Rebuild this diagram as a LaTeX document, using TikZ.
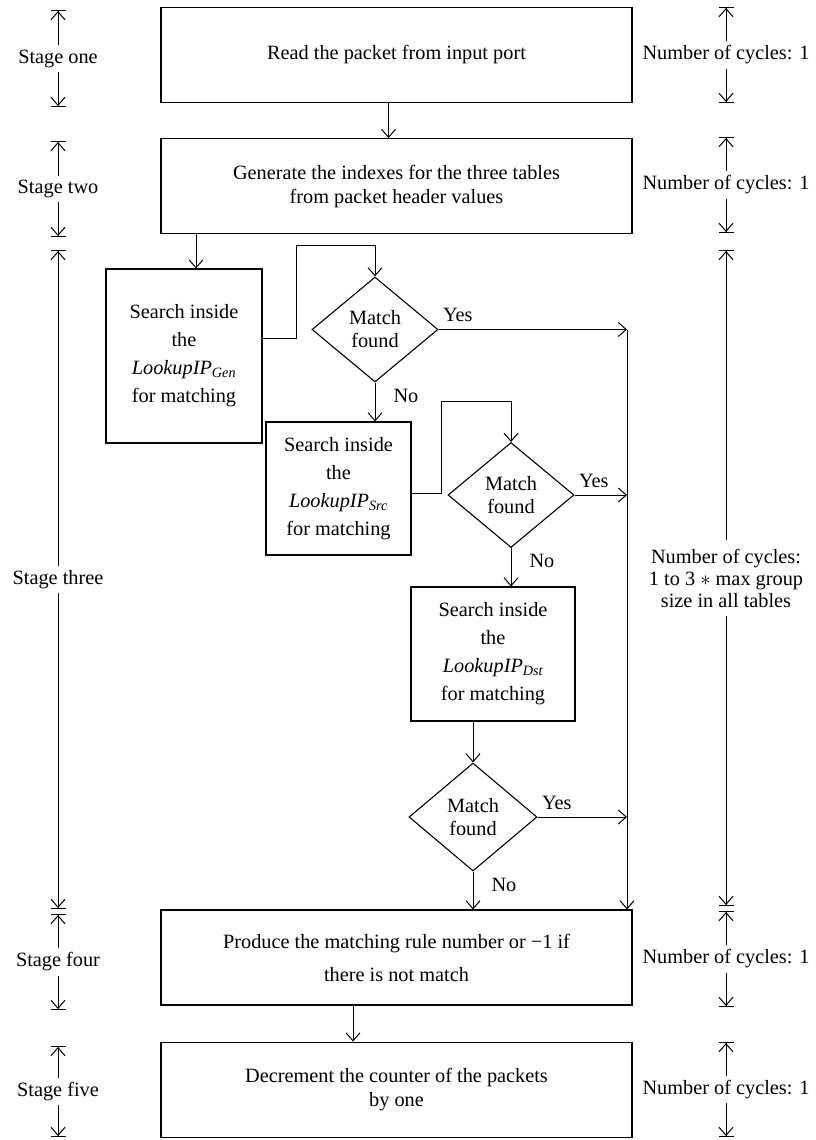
\documentclass[tikz,border=0pt]{standalone}
\usepackage{fontspec}
\setmainfont{Liberation Serif}
\usetikzlibrary{arrows.meta,positioning,shapes.geometric}

\begin{document}
\begin{tikzpicture}[
  x=1pt, y=-1pt,
  font=\fontsize{20.3}{24}\selectfont,
  box/.style={draw,line width=1.1pt,minimum width=471pt,minimum height=95pt,align=center,inner sep=0pt},
  search/.style={draw,line width=1.1pt,align=center,inner sep=0pt,font=\fontsize{20.3}{28}\selectfont},
  test/.style={draw,diamond,aspect=1.2,line width=1.1pt,minimum width=126pt,minimum height=105pt,inner sep=0pt,align=center,font=\fontsize{20.3}{23}\selectfont},
  yes/.style={inner sep=4pt,anchor=south west,yshift=3pt},
  no/.style={inner sep=4pt,anchor=north west,xshift=14pt,yshift=-2pt},
  stage/.style={inner sep=4pt,align=center,font=\fontsize{20.3}{22}\selectfont},
  arrow/.style={-{Straight Barb[length=8pt,width=14pt]},line width=1pt},
  spanline/.style={-{Straight Barb[length=8pt,width=14pt]Bar[width=15pt]},line width=1pt}
]
\useasboundingbox (0,0) rectangle (816,1140);

% flow
\node[box] (read) at (396.5,55) {Read the packet from input port};
\node[box,below=35pt of read] (idx) {Generate the indexes for the three tables\\from packet header values};
\node[search,minimum width=156pt,minimum height=174pt] (gen) at (184,356) {Search inside\\the\\\textit{LookupIP\textsubscript{Gen}}\\for matching};
\node[test] (d1) at (375,329.5) {Match\\found};
\node[search,minimum width=145pt,minimum height=133pt] (src) at (338.5,488.5) {Search inside\\the\\\textit{LookupIP\textsubscript{Src}}\\for matching};
\node[test] (d2) at (511,495) {Match\\found};
\node[search,minimum width=164pt,minimum height=134pt] (dst) at (493,654) {Search inside\\the\\\textit{LookupIP\textsubscript{Dst}}\\for matching};
\node[test,minimum width=128pt,minimum height=108pt] (d3) at (473,817) {Match\\found};
\node[box] (fin) at (396.5,957.5) {Produce the matching rule number or −1 if\\[9pt]there is not match};
\node[box,below=36pt of fin] (dec) {Decrement the counter of the packets\\by one};
\coordinate (bus) at (627,329.5);

\draw[arrow] ([xshift=-8pt]read.south) -- ([xshift=-8pt]idx.north);
\draw[arrow] ([xshift=12pt]gen.north |- idx.south) -- ([xshift=12pt]gen.north);
\draw[arrow] ([yshift=18pt]gen.east) -- ++(34,0) |- ([yshift=31pt]d1.north) -- (d1.north);
\draw[arrow] (d1.east) node[yes] {Yes} -- (bus);
\draw[arrow] (bus) -- (bus |- fin.north);
\draw[arrow] (d1.south) node[no] {No} -- (d1.south |- src.north);
\draw[arrow] ([yshift=-4.5pt]src.east) -- ++(30,0) |- ([yshift=40pt]d2.north) -- (d2.north);
\draw[arrow] (d2.east) node[yes] {Yes} -- (d2.east -| bus);
\draw[arrow] (d2.south) node[no] {No} -- (d2.south |- dst.north);
\draw[arrow] (d3.north |- dst.south) -- (d3.north);
\draw[arrow] (d3.east) node[yes] {Yes} -- (d3.east -| bus);
\draw[arrow] (d3.south) node[no] {No} -- (d3.south |- fin.north);
\draw[arrow] ([xshift=-43.5pt]fin.south) -- ([xshift=-43.5pt]dec.north);

% stages, left
\node[stage] (s1) at (58,58.5) {Stage one}; \coordinate (s1t) at (58,10); \coordinate (s1b) at (58,107);
\draw[spanline] (s1) -- (s1t); \draw[spanline] (s1) -- (s1b);
\node[stage] (s2) at (58,189) {Stage two}; \coordinate (s2t) at (58,141); \coordinate (s2b) at (58,237);
\draw[spanline] (s2) -- (s2t); \draw[spanline] (s2) -- (s2b);
\node[stage] (s3) at (58,579.5) {Stage three}; \coordinate (s3t) at (58,250); \coordinate (s3b) at (58,909);
\draw[spanline] (s3) -- (s3t); \draw[spanline] (s3) -- (s3b);
\node[stage] (s4) at (58,962) {Stage four}; \coordinate (s4t) at (58,914); \coordinate (s4b) at (58,1010);
\draw[spanline] (s4) -- (s4t); \draw[spanline] (s4) -- (s4b);
\node[stage] (s5) at (58,1091.5) {Stage five}; \coordinate (s5t) at (58,1046); \coordinate (s5b) at (58,1137);
\draw[spanline] (s5) -- (s5t); \draw[spanline] (s5) -- (s5b);

% cycles, right
\node[stage] (c1) at (726,55) {Number of cycles: 1}; \coordinate (c1t) at (726,7); \coordinate (c1b) at (726,103);
\draw[spanline] (c1) -- (c1t); \draw[spanline] (c1) -- (c1b);
\node[stage] (c2) at (726,185) {Number of cycles: 1}; \coordinate (c2t) at (726,137); \coordinate (c2b) at (726,233);
\draw[spanline] (c2) -- (c2t); \draw[spanline] (c2) -- (c2b);
\node[stage,inner ysep=9pt] (c3) at (726,578) {Number of cycles:\\1 to 3 $\ast$ max group\\size in all tables}; \coordinate (c3t) at (726,250); \coordinate (c3b) at (726,906);
\draw[spanline] (c3) -- (c3t); \draw[spanline] (c3) -- (c3b);
\node[stage] (c4) at (726,959) {Number of cycles: 1}; \coordinate (c4t) at (726,911); \coordinate (c4b) at (726,1007);
\draw[spanline] (c4) -- (c4t); \draw[spanline] (c4) -- (c4b);
\node[stage] (c5) at (726,1089.5) {Number of cycles: 1}; \coordinate (c5t) at (726,1042); \coordinate (c5b) at (726,1137);
\draw[spanline] (c5) -- (c5t); \draw[spanline] (c5) -- (c5b);
\end{tikzpicture}
\end{document}
